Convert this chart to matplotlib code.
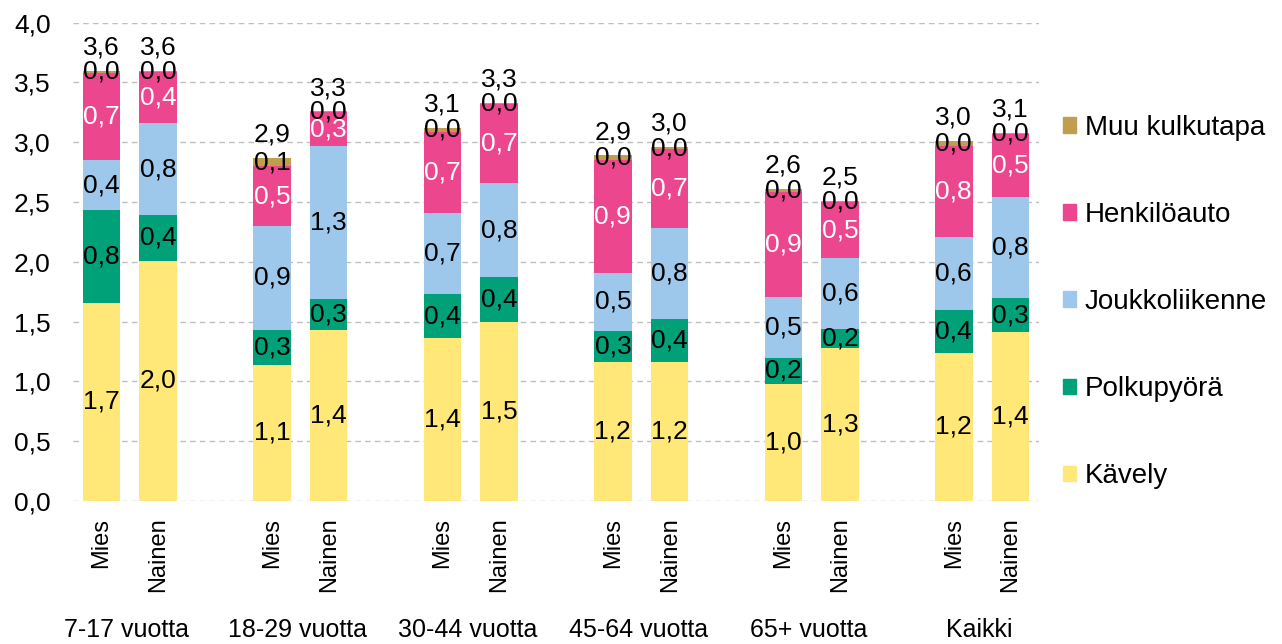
import matplotlib
matplotlib.use("Agg")
import matplotlib.pyplot as plt
from matplotlib.patches import Patch
import numpy as np

plt.rcParams['font.family'] = ['Liberation Sans', 'DejaVu Sans']

# data: trips per day by mode, each group Mies / Nainen
groups = ["7-17 vuotta", "18-29 vuotta", "30-44 vuotta", "45-64 vuotta", "65+ vuotta", "Kaikki"]
sexes = ["Mies", "Nainen"]

kavely = [1.66, 2.01, 1.14, 1.43, 1.36, 1.50, 1.16, 1.16, 0.98, 1.28, 1.24, 1.41]
polkupyora = [0.77, 0.38, 0.29, 0.26, 0.37, 0.37, 0.26, 0.36, 0.22, 0.16, 0.36, 0.29]
joukkoliikenne = [0.42, 0.77, 0.87, 1.28, 0.68, 0.79, 0.49, 0.76, 0.51, 0.59, 0.61, 0.84]
henkiloauto = [0.73, 0.43, 0.50, 0.28, 0.68, 0.66, 0.94, 0.66, 0.87, 0.47, 0.76, 0.53]
muu = [0.02, 0.01, 0.07, 0.01, 0.03, 0.01, 0.04, 0.02, 0.03, 0.01, 0.04, 0.01]

series_names = ["Kävely", "Polkupyörä", "Joukkoliikenne", "Henkilöauto", "Muu kulkutapa"]
series_vals = [kavely, polkupyora, joukkoliikenne, henkiloauto, muu]
colors = ["#FFE878", "#00A078", "#9EC8EB", "#EC468E", "#C19E4E"]
label_colors = ["black", "black", "black", "white", "black"]

yticks = [0.0, 0.5, 1.0, 1.5, 2.0, 2.5, 3.0, 3.5, 4.0]


def fi(v):
    return f"{v:.1f}".replace(".", ",")


# positions: pair of bars per group, one empty slot between groups
pos = []
for g in range(len(groups)):
    for s in range(len(sexes)):
        pos.append(g * 3 + s)
pos = np.array(pos)

fig = plt.figure(figsize=(12.82, 6.44), dpi=100)
ax = fig.add_axes([73 / 1282, 143 / 644, 966 / 1282, 478.3 / 644])

bottom = np.zeros(len(pos))
containers = []
for name, vals, col, lcol in zip(series_names, series_vals, colors, label_colors):
    vals = np.array(vals)
    bc = ax.bar(pos, vals, 0.66, bottom=bottom, color=col, label=name, zorder=2)
    ax.bar_label(bc, labels=[fi(v) for v in vals], label_type='center',
                 color=lcol, fontsize=19)
    containers.append(bc)
    bottom = bottom + vals

# totals above the bars
ax.bar_label(containers[-1], labels=[fi(t) for t in bottom], padding=8, fontsize=19)

ax.set_xlim(-0.5, 16.5)
ax.set_ylim(0, 4.0)
ax.set_yticks(yticks)
ax.set_yticklabels([fi(t) for t in yticks])
ax.set_xticks(pos)
ax.set_xticklabels(sexes * len(groups), rotation=90)
ax.tick_params(axis='y', length=0, pad=16, labelsize=19)
ax.tick_params(axis='x', length=0, pad=12, labelsize=17)

ax.yaxis.grid(True, linestyle=(0, (4, 3)), color='#BFBFBF', linewidth=1)
ax.set_axisbelow(True)
for sp in ax.spines.values():
    sp.set_visible(False)

# group labels
for g, name in enumerate(groups):
    ax.text(g * 3 + 0.45, -0.27, name, transform=ax.get_xaxis_transform(),
            ha='center', va='center', fontsize=18)

handles = [Patch(color=c, label=n) for n, c in zip(series_names, colors)][::-1]
fig.legend(handles=handles, loc='center left', bbox_to_anchor=(1049 / 1282, 0.531),
           frameon=False, fontsize=20, borderpad=0, handlelength=0.48,
           handleheight=0.48, handletextpad=0.3, labelspacing=2.2)

fig.savefig("out.png", dpi=100)
